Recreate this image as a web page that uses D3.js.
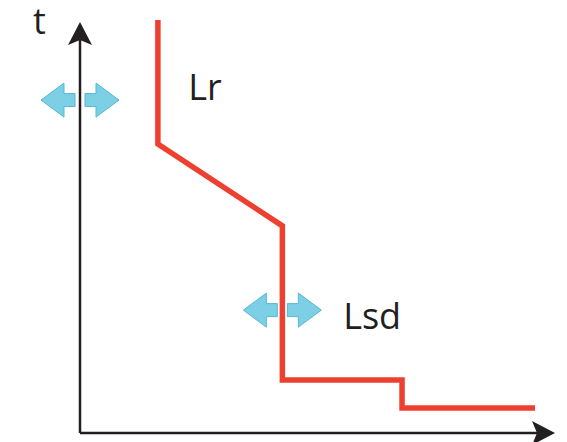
<!DOCTYPE html>
<html><head><meta charset="utf-8">
<script src="https://cdn.jsdelivr.net/npm/d3@7"></script>
<style>html,body{margin:0;padding:0;background:#fff;}svg{display:block;}</style>
</head><body>
<svg id="chart" width="567" height="442"></svg>
<script>
// Trip curve (time-current), arbitrary units
const curveX = [16.4, 16.4, 42.6, 42.6, 67.8, 67.8, 95.8];
const curveY = [100.5, 70.3, 50.4, 12.9, 12.9, 6.1, 6.1];
// Adjustment (double arrow) markers
const adjustNames = ["Lr", "Lsd"];
const adjustX = [0, 42.6];
const adjustY = [81.0, 29.9];
const labelX = [22.8, 55.4];
const labelY = [81.0, 25.3];
const axisLabel = "t";

const svg = d3.select("#chart");
const x = d3.scaleLinear().domain([0, 100]).range([80, 555]);
const y = d3.scaleLinear().domain([0, 100]).range([433, 22]);

// axes
const axisColor = "#231f20";
svg.append("line").attr("x1", x(0)).attr("x2", x(100) - 10).attr("y1", y(0)).attr("y2", y(0))
  .attr("stroke", axisColor).attr("stroke-width", 2.5);
svg.append("line").attr("x1", x(0)).attr("x2", x(0)).attr("y1", y(0)).attr("y2", y(100) + 10)
  .attr("stroke", axisColor).attr("stroke-width", 2.5);
// arrowheads
const hx = x(100), hy = y(0);
svg.append("path").attr("d", `M${hx},${hy} L${hx-23},${hy-12} L${hx-18},${hy} L${hx-23},${hy+12} Z`).attr("fill", axisColor);
const vx = x(0), vy = y(100);
svg.append("path").attr("d", `M${vx},${vy} L${vx-12},${vy+23} L${vx},${vy+18} L${vx+12},${vy+23} Z`).attr("fill", axisColor);

// curve
const pts = curveX.map((d, i) => [d, curveY[i]]);
svg.append("path").datum(pts)
  .attr("d", d3.line().x(d => x(d[0])).y(d => y(d[1])))
  .attr("fill", "none").attr("stroke", "#ee4030").attr("stroke-width", 5.5)
  .attr("stroke-linejoin", "miter");

// double arrows
function halfArrow(cx, cy, dir) {
  const g0 = 5, shaftEnd = 16, tip = 39, hh = 17, sh = 6.5;
  const p = [
    [cx + dir*g0, cy - sh], [cx + dir*shaftEnd, cy - sh], [cx + dir*shaftEnd, cy - hh],
    [cx + dir*tip, cy], [cx + dir*shaftEnd, cy + hh], [cx + dir*shaftEnd, cy + sh], [cx + dir*g0, cy + sh]
  ];
  return "M" + p.map(q => q.join(",")).join("L") + "Z";
}
adjustX.forEach((ax, i) => {
  const cx = x(ax), cy = y(adjustY[i]);
  [-1, 1].forEach(dir => {
    svg.append("path").attr("d", halfArrow(cx, cy, dir))
      .attr("fill", "#7ccfe4").attr("stroke", "#55b7d4").attr("stroke-width", 1);
  });
});

// labels
adjustNames.forEach((n, i) => {
  svg.append("text").attr("x", x(labelX[i])).attr("y", y(labelY[i]))
    .attr("font-family", "Open Sans, sans-serif").attr("font-size", 36).attr("fill", "#231f20").text(n);
});
svg.append("text").attr("x", 33).attr("y", 34)
  .attr("font-family", "Open Sans, sans-serif").attr("font-size", 36).attr("fill", "#231f20").text(axisLabel);
</script>
</body></html>
